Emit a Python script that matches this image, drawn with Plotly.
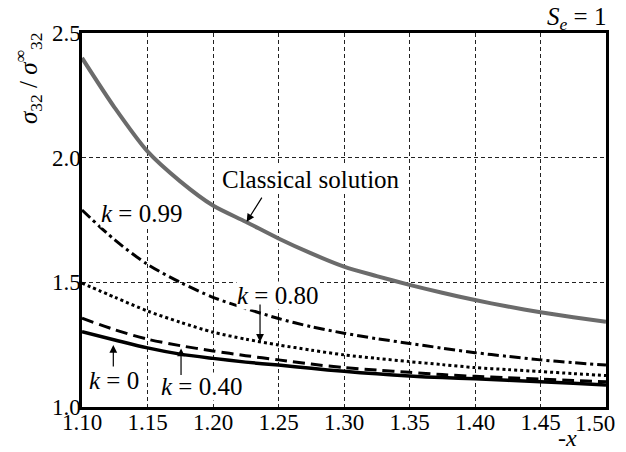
import plotly.graph_objects as go

x_vals = [1.10, 1.125, 1.15, 1.175, 1.20, 1.225, 1.25, 1.275, 1.30, 1.325, 1.35, 1.375, 1.40, 1.425, 1.45, 1.475, 1.50]
classical = [2.40, 2.20, 2.025, 1.905, 1.808, 1.743, 1.676, 1.616, 1.563, 1.525, 1.49, 1.458, 1.429, 1.403, 1.38, 1.36, 1.342]
k099 = [1.79, 1.67, 1.572, 1.50, 1.44, 1.395, 1.355, 1.322, 1.296, 1.274, 1.255, 1.236, 1.218, 1.203, 1.189, 1.178, 1.168]
k080 = [1.497, 1.44, 1.385, 1.34, 1.30, 1.272, 1.249, 1.228, 1.209, 1.195, 1.182, 1.17, 1.158, 1.15, 1.142, 1.134, 1.126]
k040 = [1.356, 1.31, 1.272, 1.246, 1.225, 1.206, 1.189, 1.172, 1.158, 1.148, 1.139, 1.13, 1.123, 1.117, 1.112, 1.106, 1.101]
k000 = [1.302, 1.269, 1.237, 1.212, 1.195, 1.18, 1.168, 1.155, 1.143, 1.133, 1.124, 1.118, 1.113, 1.107, 1.101, 1.095, 1.088]

x_ticks = [1.10, 1.15, 1.20, 1.25, 1.30, 1.35, 1.40, 1.45, 1.50]
x_tick_labels = ["1.10", "1.15", "1.20", "1.25", "1.30", "1.35", "1.40", "1.45", "1.50"]
y_ticks = [1.0, 1.5, 2.0, 2.5]
y_tick_labels = ["1.0", "1.5", "2.0", "2.5"]

FONT = "Liberation Serif"

# page body has an 8px default margin; plot area target: x 82..606, y 33..407 (page px)
OFF = 8
L, R, T, B = 82 - OFF, 20, 33 - OFF, 45
W, H = 626 - OFF, 452 - OFF
PW, PH = W - L - R, H - T - B

def px_x(p):
    return (p - OFF - L) / PW

def px_y(p):
    return 1 - (p - OFF - T) / PH

fig = go.Figure()
sm = dict(shape="spline", smoothing=0.8)
fig.add_trace(go.Scatter(x=x_vals, y=classical, mode="lines", line=dict(color="#6b6b6b", width=4, **sm), name="Classical"))
fig.add_trace(go.Scatter(x=x_vals, y=k099, mode="lines", line=dict(color="black", width=3, dash="11px,4px,3px,4px", **sm), name="k=0.99"))
fig.add_trace(go.Scatter(x=x_vals, y=k080, mode="lines", line=dict(color="black", width=3, dash="3px,3px", **sm), name="k=0.80"))
fig.add_trace(go.Scatter(x=x_vals, y=k040, mode="lines", line=dict(color="black", width=3, dash="12px,6px", **sm), name="k=0.40"))
fig.add_trace(go.Scatter(x=x_vals, y=k000, mode="lines", line=dict(color="black", width=3.5, **sm), name="k=0"))

ann_font = dict(family=FONT, size=25, color="black")

def label(x, y, text):
    fig.add_annotation(x=x, y=y, xref="x", yref="y", text=text, showarrow=False,
                       xanchor="center", yanchor="middle",
                       font=ann_font, bgcolor="white", borderpad=0)

def arrow(x0, y0, x1, y1):
    fig.add_annotation(x=x1, y=y1, ax=x0, ay=y0, xref="x", yref="y", axref="x", ayref="y",
                       text="", showarrow=True, arrowhead=2, arrowsize=1.3, arrowwidth=1.2,
                       arrowcolor="black")

label(1.2748, 1.911, "Classical solution")
arrow(1.238, 1.846, 1.2257, 1.743)
label(1.1456, 1.777, "<i>k</i> = 0.99")
label(1.2492, 1.449, "<i>k</i> = 0.80")
arrow(1.2359, 1.417, 1.2359, 1.261)
label(1.1244, 1.108, "<i>k</i> = 0")
arrow(1.1239, 1.156, 1.1239, 1.249)
label(1.1912, 1.081, "<i>k</i> = 0.40")
arrow(1.1756, 1.122, 1.1756, 1.235)

fig.add_annotation(x=px_x(576), y=px_y(18), xref="paper", yref="paper", xanchor="center", yanchor="middle",
                   text="<i>S</i><sub><i>e</i></sub> = 1", showarrow=False, font=ann_font)
fig.add_annotation(x=px_x(567), y=px_y(438), xref="paper", yref="paper", xanchor="center", yanchor="middle",
                   text="-<i>x</i>", showarrow=False, font=dict(family=FONT, size=24, color="black"))
fig.add_annotation(x=px_x(28), y=px_y(78), xref="paper", yref="paper", xanchor="center", yanchor="middle",
                   text="<i>σ</i><sub>32</sub> / <i>σ</i><sup>∞</sup><sub>32</sub>",
                   textangle=-90, showarrow=False, font=ann_font)

# last x tick label is nudged left so it stays inside the page, as in the reference
axis_tick_text = x_tick_labels[:-1] + [""]
fig.add_annotation(x=x_ticks[-1], y=px_y(423), xref="x", yref="paper", xanchor="right", yanchor="middle",
                   xshift=11, text=x_tick_labels[-1], showarrow=False,
                   font=dict(family=FONT, size=23, color="black"))

fig.update_layout(
    width=W, height=H,
    margin=dict(l=L, r=R, t=T, b=B),
    paper_bgcolor="white", plot_bgcolor="white",
    showlegend=False,
    font=dict(family=FONT, size=23, color="black"),
    xaxis=dict(range=[1.10, 1.50], tickvals=x_ticks, ticktext=axis_tick_text,
               showgrid=True, gridcolor="#222222", gridwidth=1, griddash="4px,3px",
               showline=True, linecolor="black", linewidth=2.5, mirror=True,
               ticks="", zeroline=False, automargin=False, ticklabelstandoff=-7,
               ticklabeloverflow="allow", tickfont=dict(family=FONT, size=23)),
    yaxis=dict(range=[1.0, 2.5], tickvals=y_ticks, ticktext=y_tick_labels,
               showgrid=True, gridcolor="#222222", gridwidth=1, griddash="4px,3px",
               showline=True, linecolor="black", linewidth=2.5, mirror=True,
               ticks="", zeroline=False, automargin=False, ticklabelstandoff=-6,
               ticklabeloverflow="allow", tickfont=dict(family=FONT, size=23)),
)

fig.write_html("out.html")
